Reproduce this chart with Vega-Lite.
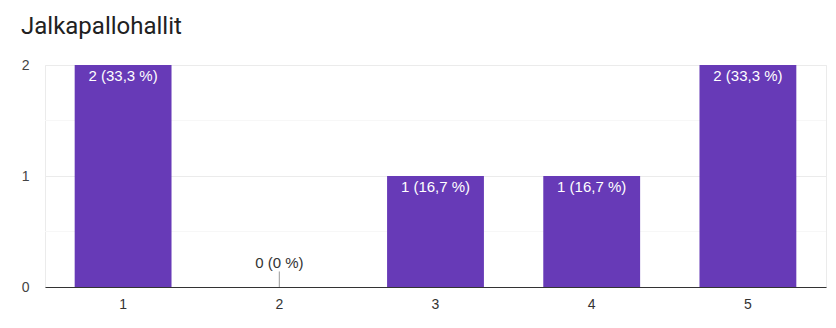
{
  "$schema": "https://vega.github.io/schema/vega-lite/v6.json",
  "width": 781,
  "height": 222,
  "autosize": "none",
  "padding": {"left": 45, "top": 65, "right": 10, "bottom": 41},
  "title": {"text": "Jalkapallohallit", "anchor": "start", "frame": "group", "font": "Roboto", "fontSize": 24, "fontWeight": "normal", "color": "#212121", "dx": -24, "offset": 19},
  "config": {"view": {"stroke": "#ebebeb"}},
  "data": {"values": [
    {"option": "1", "count": 2, "label": "2 (33,3 %)"},
    {"option": "2", "count": 0, "label": "0 (0 %)"},
    {"option": "3", "count": 1, "label": "1 (16,7 %)"},
    {"option": "4", "count": 1, "label": "1 (16,7 %)"},
    {"option": "5", "count": 2, "label": "2 (33,3 %)"}
  ]},
  "encoding": {
    "x": {"field": "option", "type": "nominal", "sort": null, "title": null,
      "scale": {"paddingInner": 0.38, "paddingOuter": 0.19},
      "axis": {"labelAngle": 0, "ticks": false, "domainColor": "#333333", "labelFont": "Liberation Sans", "labelFontSize": 14, "labelColor": "#333333", "labelPadding": 10}},
    "y": {"field": "count", "type": "quantitative", "title": null,
      "scale": {"domain": [0, 2], "nice": false},
      "axis": {"values": [0, 1, 2], "labelExpr": "format(datum.value, '.0f')", "ticks": false, "domain": false, "gridColor": "#ebebeb", "labelFont": "Liberation Sans", "labelFontSize": 14, "labelColor": "#444444", "labelPadding": 16, "labelBaseline": "middle", "labelOverlap": false, "labelFlush": false}}
  },
  "layer": [
    {"mark": {"type": "rule", "color": "#f7f7f7"}, "encoding": {"x": null, "y": {"datum": 0.5}}},
    {"mark": {"type": "rule", "color": "#f7f7f7"}, "encoding": {"x": null, "y": {"datum": 1.5}}},
    {"mark": {"type": "bar", "color": "#673ab7"}},
    {"transform": [{"filter": "datum.count == 0"}], "mark": {"type": "rule", "color": "#999999"}, "encoding": {"y": {"datum": 0}, "y2": {"datum": 0.14}}},
    {"transform": [{"filter": "datum.count > 0"}], "mark": {"type": "text", "color": "#ffffff", "font": "Liberation Sans", "fontSize": 15, "baseline": "top", "dy": 4}, "encoding": {"text": {"field": "label"}}},
    {"transform": [{"filter": "datum.count == 0"}], "mark": {"type": "text", "color": "#333333", "font": "Liberation Sans", "fontSize": 15, "baseline": "bottom", "dy": -16}, "encoding": {"text": {"field": "label"}}}
  ]
}
